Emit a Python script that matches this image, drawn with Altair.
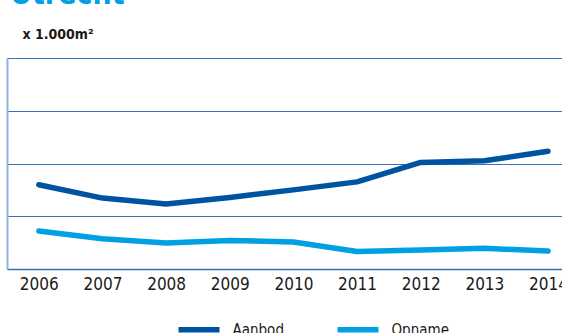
import altair as alt
import pandas as pd

years = [2006, 2007, 2008, 2009, 2010, 2011, 2012, 2013, 2014]
aanbod = [399, 336, 308, 339, 375, 413, 505, 513, 558]
opname = [180, 143, 123, 135, 128, 83, 90, 98, 85]
series = ["Aanbod", "Opname"]
colors = ["#0053a0", "#00a0e2"]
y_ticks = [0, 250, 500, 750, 1000]

df = pd.DataFrame({"jaar": years, "Aanbod": aanbod, "Opname": opname})
long = df.melt(id_vars="jaar", var_name="serie", value_name="waarde")

FONT = "'DejaVu Sans Condensed', 'Roboto', sans-serif"

lines = alt.Chart(long).mark_line(strokeWidth=5.5, strokeCap="round", strokeJoin="round").encode(
    x=alt.X("jaar:Q",
            scale=alt.Scale(domain=[2005.5, 2014.22], nice=False, zero=False),
            axis=alt.Axis(values=years, format="d", title=None, grid=False, ticks=False,
                          labelFont=FONT, labelFontSize=17, labelColor="#1a1a1a",
                          labelFontWeight=500,
                          labelPadding=7, labelFlush=False,
                          domainColor="#3a6db5", domainWidth=1.5)),
    y=alt.Y("waarde:Q",
            scale=alt.Scale(domain=[0, 1000], nice=False),
            axis=alt.Axis(values=y_ticks, labels=False, ticks=False, grid=True,
                          gridColor="#3572bd", gridWidth=1.2,
                          domainColor="#8fb2dd", domainWidth=2,
                          title="x 1.000m²", titleAngle=0, titleX=15, titleY=-20,
                          titleAlign="left", titleBaseline="alphabetic",
                          titleFont=FONT, titleFontSize=14, titleFontWeight="bold",
                          titleColor="#1a1a1a")),
    color=alt.Color("serie:N",
                    scale=alt.Scale(domain=series, range=colors),
                    legend=alt.Legend(title=None, orient="none", direction="horizontal",
                                      legendX=168.5, legendY=248,
                                      symbolType="stroke", symbolSize=1681,
                                      symbolStrokeWidth=5.5,
                                      labelFont=FONT, labelFontSize=15,
                                      labelFontWeight=500,
                                      labelColor="#1a1a1a", labelOffset=10,
                                      columnPadding=42)),
)

title_df = pd.DataFrame({"t": ["Utrecht"]})
title = alt.Chart(title_df).mark_text(
    align="left", baseline="alphabetic", font=FONT, fontSize=30, fontWeight="bold",
    color="#00a0e3"
).encode(text="t:N", x=alt.value(3), y=alt.value(-54))

chart = alt.layer(lines, title).properties(
    width=555, height=211,
    autosize=alt.AutoSizeParams(type="none"),
    padding={"left": 7, "top": 58, "right": 0, "bottom": 64},
).configure_view(stroke=None)

chart.save("out.html", embed_options={"renderer": "svg", "actions": False})
